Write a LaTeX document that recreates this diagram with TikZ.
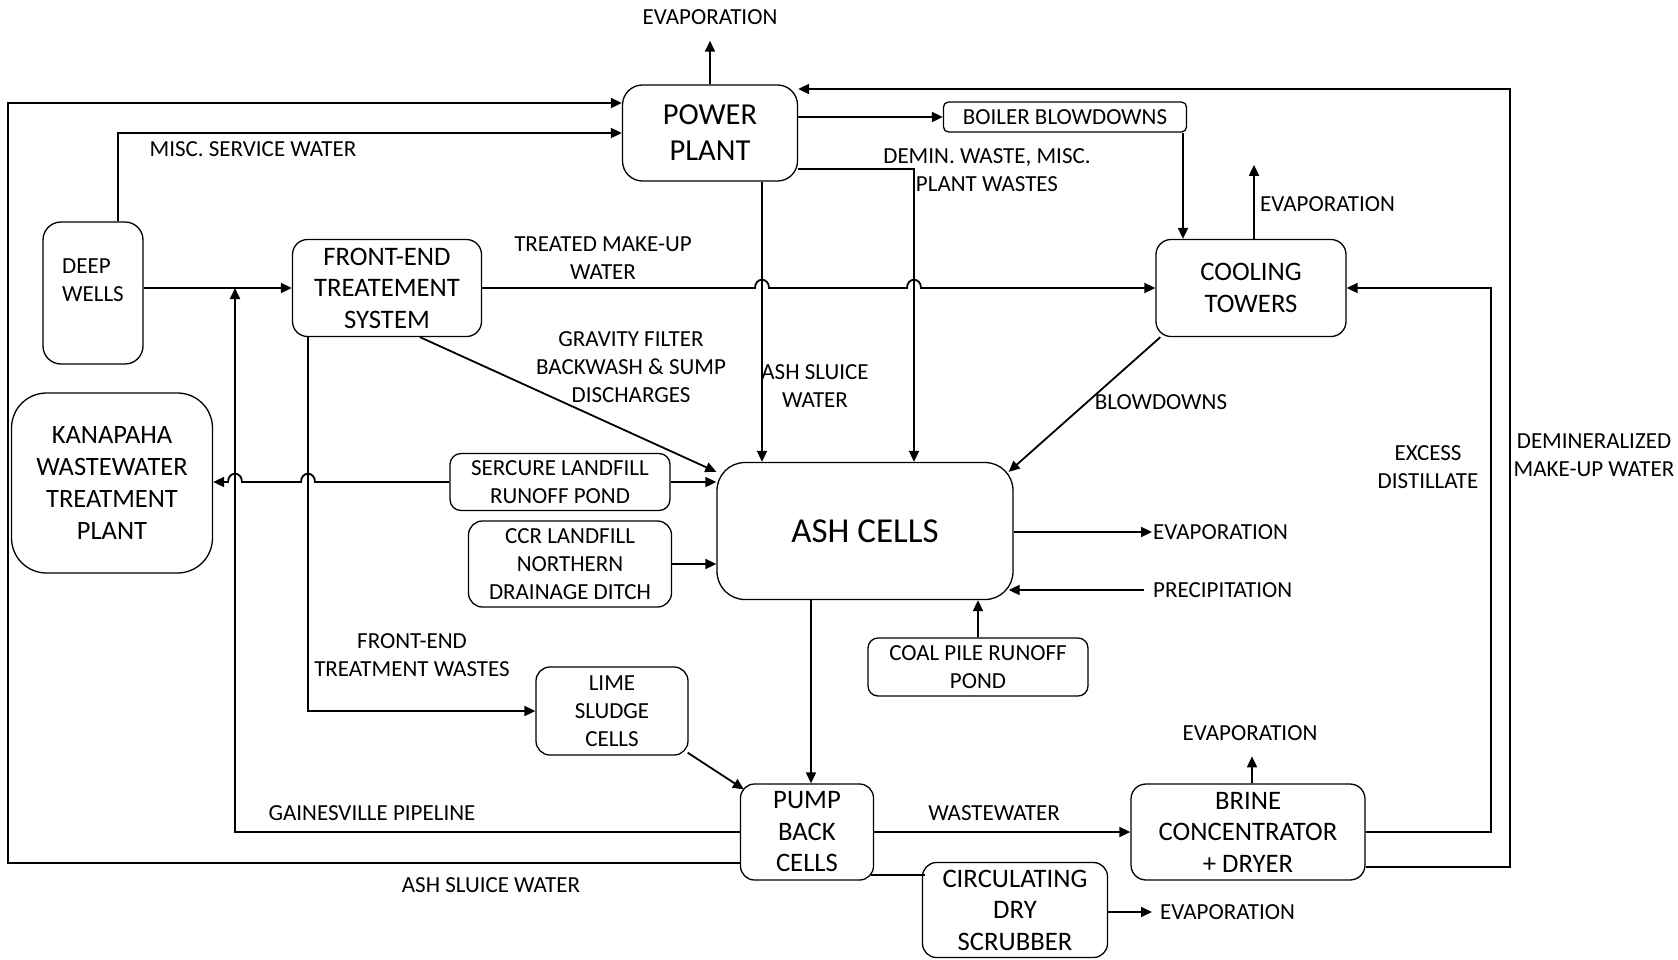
\documentclass[tikz,border=0pt]{standalone}
\usepackage{fontspec}
\setmainfont{Carlito}
\usetikzlibrary{arrows.meta,calc}
\newcommand\fSmall{\fontsize{23}{28}\selectfont}
\newcommand\fBig{\fontsize{26.7}{31.5}\selectfont}
\newcommand\fKP{\fontsize{26.5}{32}\selectfont}
\newcommand\fPP{\fontsize{30.5}{36}\selectfont}
\newcommand\fAC{\fontsize{35}{40}\selectfont}
\begin{document}
\begin{tikzpicture}[x=1pt,y=-1pt,
  box/.style={draw, line width=1.3pt, align=center, inner sep=0pt, font=\fBig},
  conn/.style={line width=1.8pt},
  arr/.style={conn, -{Triangle[length=11pt,width=10pt]}},
  lbl/.style={inner sep=0pt, align=center, font=\fSmall},
]
\fill[white] (0,0) rectangle (1678,959);
\useasboundingbox (0,0) rectangle (1678,959);

% boxes
\node[box, rounded corners=20pt, minimum width=175pt, minimum height=96pt, font=\fPP] (pp) at (710,133) {POWER\\PLANT};
\node[box, rounded corners=5pt, minimum width=243pt, minimum height=30pt, font=\fSmall] (bb) at (1065,117) {BOILER BLOWDOWNS};
\node[box, rounded corners=18pt, minimum width=100pt, minimum height=142pt] (dw) at (93,293) {};
\node[lbl, align=left] (dwt) at (93,280) {DEEP\\WELLS};
\node[box, rounded corners=15pt, minimum width=189pt, minimum height=97pt] (fe) at (387,288) {FRONT-END\\TREATEMENT\\SYSTEM};
\node[box, rounded corners=15pt, minimum width=190pt, minimum height=97pt] (ct) at (1251,288) {COOLING\\TOWERS};
\node[box, rounded corners=35pt, minimum width=201pt, minimum height=180pt, font=\fKP] (kp) at (112,483) {KANAPAHA\\WASTEWATER\\TREATMENT\\PLANT};
\node[box, rounded corners=11pt, minimum width=220pt, minimum height=57pt, font=\fSmall] (sl) at (560,482) {SERCURE LANDFILL\\RUNOFF POND};
\node[box, rounded corners=14pt, minimum width=203pt, minimum height=86pt, font=\fSmall] (ccr) at (570,564) {CCR LANDFILL\\NORTHERN\\DRAINAGE DITCH};
\node[box, rounded corners=28pt, minimum width=296pt, minimum height=137pt, font=\fAC] (ac) at (865,531) {ASH CELLS};
\node[box, rounded corners=10pt, minimum width=220pt, minimum height=58pt, font=\fSmall] (cp) at (978,667) {COAL PILE RUNOFF\\POND};
\node[box, rounded corners=14pt, minimum width=152pt, minimum height=88pt, font=\fSmall] (ls) at (612,711) {LIME\\SLUDGE\\CELLS};
\node[box, rounded corners=14pt, minimum width=133pt, minimum height=96pt] (pb) at (807,832) {PUMP\\BACK\\CELLS};
\node[box, rounded corners=15pt, minimum width=234pt, minimum height=96pt] (br) at (1248,832) {BRINE\\CONCENTRATOR\\+ DRYER};
\node[box, rounded corners=14pt, minimum width=185pt, minimum height=95pt] (cs) at (1015,910) {CIRCULATING\\DRY\\SCRUBBER};

% labels
\node[lbl] (e1) at (710,17) {EVAPORATION};
\node[lbl] (msw) at (253,149) {MISC. SERVICE WATER};
\node[lbl] (dem) at (987,170) {DEMIN. WASTE, MISC.\\PLANT WASTES};
\node[lbl, anchor=west] (e2) at (1260,204) {EVAPORATION};
\node[lbl] (tmu) at (603,258) {TREATED MAKE-UP\\WATER};
\node[lbl] (gf) at (631,367) {GRAVITY FILTER\\BACKWASH \& SUMP\\DISCHARGES};
\node[lbl] (asw1) at (815,386) {ASH SLUICE\\WATER};
\node[lbl] (bd) at (1161,402) {BLOWDOWNS};
\node[lbl] (ed) at (1428,467) {EXCESS\\DISTILLATE};
\node[lbl] (dmu) at (1594,455) {DEMINERALIZED\\MAKE-UP WATER};
\node[lbl, anchor=west] (e3) at (1153,532) {EVAPORATION};
\node[lbl, anchor=west] (prec) at (1153,590) {PRECIPITATION};
\node[lbl] (few) at (412,655) {FRONT-END\\TREATMENT WASTES};
\node[lbl] (e4) at (1250,733) {EVAPORATION};
\node[lbl] (gp) at (372,813) {GAINESVILLE PIPELINE};
\node[lbl] (ww) at (994,813) {WASTEWATER};
\node[lbl] (asw2) at (491,885) {ASH SLUICE WATER};
\node[lbl, anchor=west] (e5) at (1160,912) {EVAPORATION};

% helper coordinates
\coordinate (ox) at (8,0);
\coordinate (gx) at (235,0);
\coordinate (fx) at (308,0);
\coordinate (vA) at (762,0);
\coordinate (vB) at (914,0);
\coordinate (bbx) at (1183,0);
\coordinate (ctx) at (1254,0);
\coordinate (acx) at (811,0);
\coordinate (brx) at (1252,0);
\coordinate (rx1) at (1491,0);
\coordinate (rx2) at (1510,0);
\coordinate (pbA) at ([yshift=-31pt]pb.west);
\coordinate (ppA) at ([yshift=30pt]pp.west);
\coordinate (dwT) at ([xshift=25pt]dw.north);
\coordinate (ppC) at ([yshift=-36pt]pp.east);
\coordinate (brA) at ([yshift=-35pt]br.east);
\coordinate (ppD) at ([yshift=44pt]pp.east);
\coordinate (pbE) at ([shift={(-3pt,-43pt)}]pb.east);

% connectors
\draw[arr] (pp.north) -- ([yshift=-16pt]e1.south);
\draw[arr] (pbA) -- (ox |- pbA) -- (ox |- ppA) -- (ppA);
\draw[arr] (dwT) |- (pp.west);
\draw[arr] (dw.east |- fe.west) -- (fe.west);
\draw[arr] (pb.west) -| (gx |- fe.west);
\draw[arr] (fe.east) -- ($(vA |- fe.east)+(-7,0)$) .. controls +(0,-11) and +(0,-11) .. ($(vA |- fe.east)+(7,0)$)
   -- ($(vB |- fe.east)+(-7,0)$) .. controls +(0,-11) and +(0,-11) .. ($(vB |- fe.east)+(7,0)$) -- (ct.west);
\draw[arr] (pp.east |- bb.west) -- (bb.west);
\draw[arr] (ppC) -| (vB |- ac.north);
\draw[arr] (vA |- pp.south) -- (vA |- ac.north);
\draw[arr] (bbx |- bb.south) -- (bbx |- ct.north);
\draw[arr] (ctx |- ct.north) -- ++(0,-74);
\draw[arr] ([xshift=5pt]ct.south west) -- ([shift={(-5pt,-10pt)}]ac.north east);
\draw[arr] (brA) -- (rx2 |- brA) -- (rx2 |- ppD) -- (ppD);
\draw[arr] (br.east) -- (rx1 |- br.east) -- (rx1 |- ct.east) -- (ct.east);
\draw[arr] ([xshift=33pt]fe.south) -- ([yshift=-10pt]ac.north west);
\draw[arr] (fx |- fe.south) |- (ls.west);
\draw[arr] (sl.west) -- ($(fx |- sl.west)+(7,0)$) .. controls +(0,-11) and +(0,-11) .. ($(fx |- sl.west)+(-7,0)$)
   -- ($(gx |- sl.west)+(7,0)$) .. controls +(0,-11) and +(0,-11) .. ($(gx |- sl.west)+(-7,0)$) -- (kp.east |- sl.west);
\draw[arr] (sl.east) -- (ac.west |- sl.east);
\draw[arr] (ccr.east) -- (ac.west |- ccr.east);
\draw[arr] (ac.east |- e3.west) -- ([xshift=-1pt]e3.west);
\draw[arr] ([xshift=-9pt]prec.west) -- ($(ac.east |- prec.west)+(-5,0)$);
\draw[arr] (cp.north) -- (cp.north |- ac.south);
\draw[arr] (acx |- ac.south) -- (acx |- pb.north);
\draw[arr] ([shift={(-1pt,3pt)}]ls.south east) -- ([shift={(4pt,-6pt)}]pb.north west);
\draw[arr] (pb.east) -- (br.west);
\draw[conn] (pbE) -- ($(cs.west |- pbE)+(3,0)$);
\draw[arr] (brx |- br.north) -- ++(0,-27);
\draw[arr] (cs.east |- e5.west) -- ([xshift=-8pt]e5.west);
\end{tikzpicture}
\end{document}
